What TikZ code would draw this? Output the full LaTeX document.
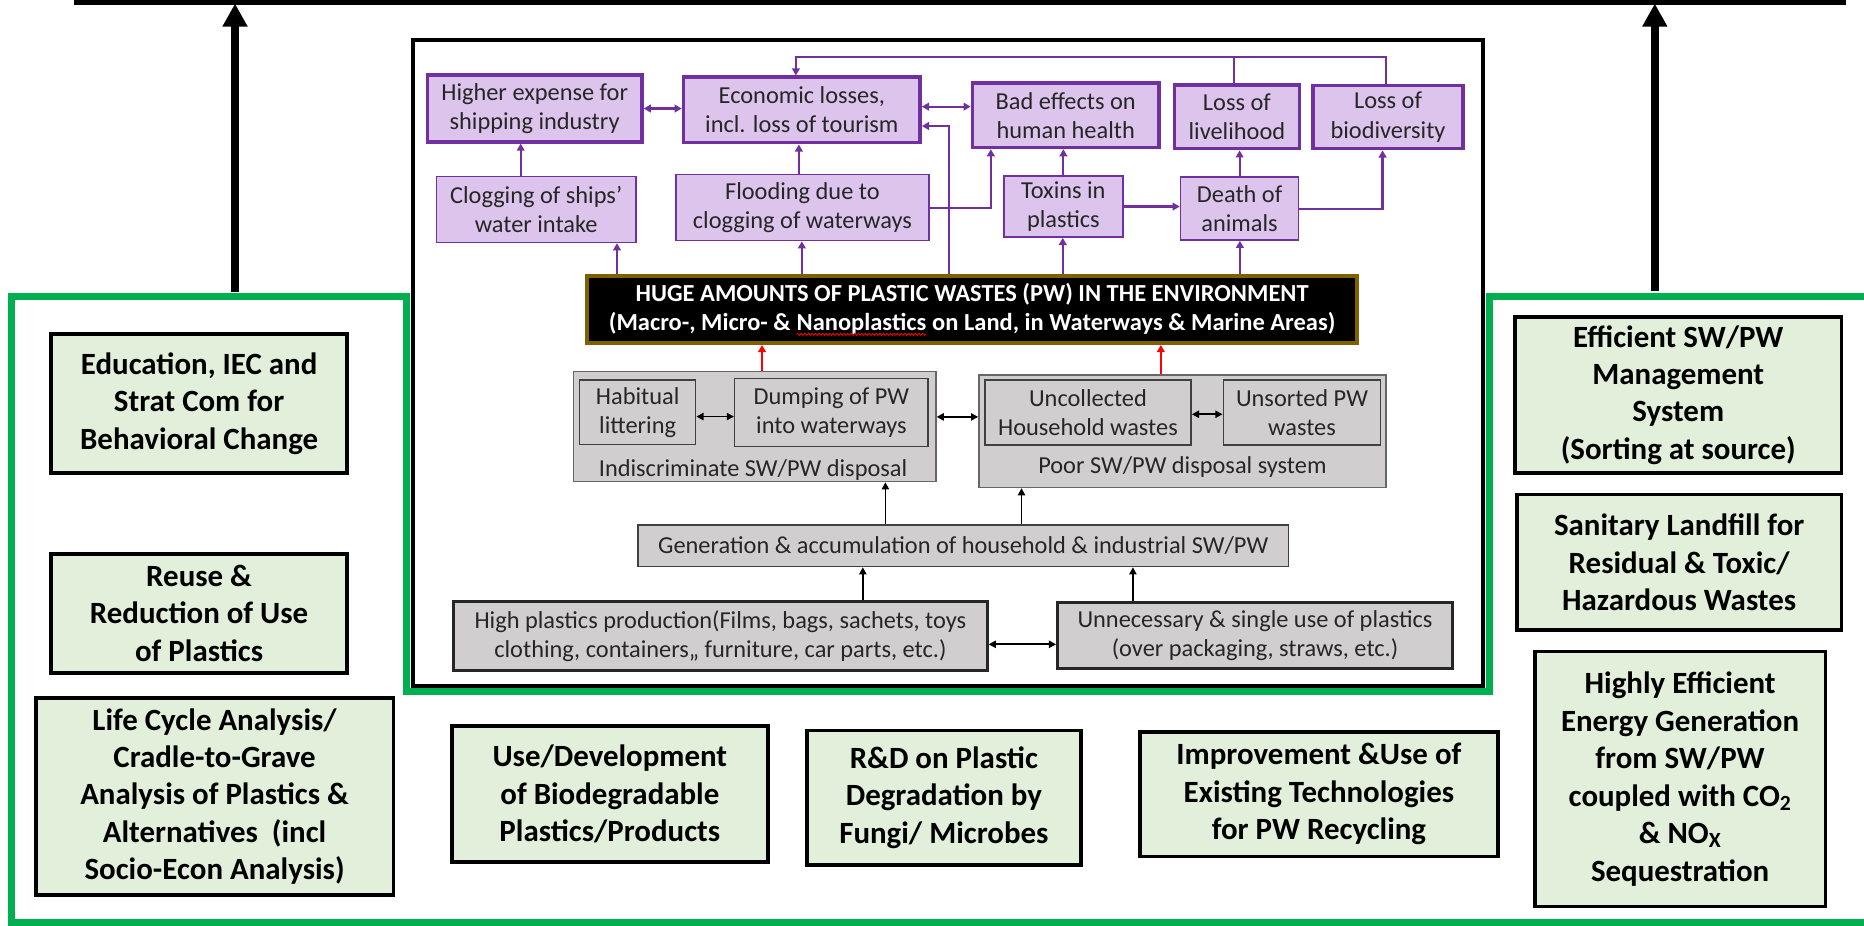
\documentclass[tikz,border=0pt]{standalone}
\usepackage{fontspec}
\setmainfont{Carlito}
\usetikzlibrary{arrows.meta,decorations.pathmorphing,calc}
\definecolor{pborder}{HTML}{7030A0}
\definecolor{pfill}{RGB}{220,196,236}
\definecolor{gfill}{HTML}{D0CECE}
\definecolor{gline}{HTML}{404040}
\definecolor{grfill}{HTML}{E2EFDA}
\definecolor{grline}{HTML}{00B050}
\definecolor{hugeline}{HTML}{7F6000}
\tikzset{
 pthick/.style={draw=pborder, line width=3pt, fill=pfill, align=center, inner sep=0pt, font=\fontsize{20.5}{24.5}\selectfont, text=black!85},
 pthin/.style={pthick, line width=1.2pt},
 gouter/.style={draw=gline!80, fill=gfill, line width=1.3pt, inner sep=0pt},
 ginner/.style={draw=gline, fill=gfill, line width=1.2pt, align=center, inner sep=0pt, font=\fontsize{20.5}{24.5}\selectfont, text=black!85},
 glabel/.style={inner sep=0pt, font=\fontsize{20.5}{24.5}\selectfont, text=black!85},
 gthick/.style={ginner, draw=black!85, line width=2.6pt},
 grbox/.style={draw=black, line width=3.2pt, fill=grfill, align=center, inner sep=0pt, font=\fontsize{26}{31.5}\bfseries\selectfont},
 hugebox/.style={draw=hugeline, line width=3.4pt, fill=black, text=white, align=center, inner sep=0pt, font=\fontsize{20.6}{24.4}\bfseries\selectfont},
 parr/.style={draw=pborder, line width=1.8pt, -{Triangle[width=6.5pt,length=6pt]}},
 pboth/.style={parr, {Triangle[width=6.5pt,length=6pt]}-{Triangle[width=6.5pt,length=6pt]}},
 plin/.style={draw=pborder, line width=1.8pt},
 karr/.style={draw=black, line width=1.5pt, -{Triangle[width=6pt,length=6pt]}},
 kboth/.style={karr, {Triangle[width=6pt,length=6pt]}-{Triangle[width=6pt,length=6pt]}},
 rarr/.style={draw=red, line width=1.8pt, -{Triangle[width=6.5pt,length=6pt]}},
 bigarr/.style={draw=black, line width=6.7pt, -{Triangle[width=20pt,length=19.5pt]}},
 wavyred/.style={draw=red, line width=0.7pt, decorate, decoration={snake, amplitude=0.9pt, segment length=3pt}},
}
\newcommand{\wavyword}[1]{\tikz[baseline=(wvw.base)]{\node[inner sep=0pt,outer sep=0pt,minimum width=0pt,minimum height=0pt,draw=none,fill=none,text=white](wvw){#1};\draw[wavyred]([yshift=-3.5pt]wvw.base west)--([yshift=-3.5pt]wvw.base east);}}
\begin{document}
\begin{tikzpicture}[x=1pt,y=-1pt]
\useasboundingbox (0,0) rectangle (1568,778.8);
% frames
\draw[grline, line width=5.8pt, line join=miter] (1575,249.5) -- (1253,249.5) -- (1253,581.5) -- (342,581.5) -- (342,249.5) -- (9.8,249.5) -- (9.8,776) -- (1575,776);
\draw[line width=3.4pt] (347.5,33.6) rectangle (1247.5,577);
% top line and big arrows
\coordinate (tl) at (62,2);
\coordinate (tr) at (1553,2);
\draw[line width=4.2pt] (tl) -- (tr);
\coordinate (la0) at (197.7,246);
\coordinate (la1) at (197.7,3);
\coordinate (ra0) at (1392,245);
\coordinate (ra1) at (1392,3);
\draw[bigarr] (la0) -- (la1);
\draw[bigarr] (ra0) -- (ra1);
% purple row 1
\node[pthick, minimum width=180.5pt, minimum height=56pt] (P1) at (449.75,91.3) {Higher expense for\\shipping industry};
\node[pthick, minimum width=199pt, minimum height=55pt] (P2) at (674.5,92.5) {Economic losses,\\incl. loss of tourism};
\node[pthick, minimum width=157pt, minimum height=54pt] (P3) at (896.5,97) {Bad effects on\\human health};
\node[pthick, minimum width=105pt, minimum height=53.5pt] (P4) at (1040.5,98.2) {Loss of\\livelihood};
\node[pthick, minimum width=126pt, minimum height=53pt] (P5) at (1167.6,98.5) {Loss of\\biodiversity};
% purple row 2
\node[pthin, minimum width=168pt, minimum height=55.4pt] (Q1) at (451,176.3) {Clogging of ships’\\water intake};
\node[pthin, minimum width=213pt, minimum height=55.4pt] (Q2) at (675,174.7) {Flooding due to\\clogging of waterways};
\node[pthin, minimum width=100pt, minimum height=51.5pt] (Q3) at (894.5,173.75) {Toxins in\\plastics};
\node[pthin, minimum width=99.5pt, minimum height=53pt] (Q4) at (1042.75,175.5) {Death of\\animals};
% huge box
\node[hugebox, minimum width=648pt, minimum height=56.5pt] (HUGE) at (817.75,260.25) {HUGE AMOUNTS OF PLASTIC WASTES (PW) IN THE ENVIRONMENT\\(Macro-, Micro- \& \wavyword{Nanoplastics} on Land, in Waterways \& Marine Areas)};
% gray section
\node[gouter, minimum width=305pt, minimum height=92.4pt] (G1) at (634.75,358.8) {};
\node[ginner, minimum width=97.6pt, minimum height=54.4pt] (H1) at (536.4,346.8) {Habitual\\littering};
\node[ginner, minimum width=162.8pt, minimum height=57.2pt] (H2) at (699.4,347.1) {Dumping of PW\\into waterways};
\node[glabel] (G1L) at (633.5,395.3) {Indiscriminate SW/PW disposal};
\node[gouter, minimum width=342.2pt, minimum height=94.6pt] (G2) at (994.6,362.7) {};
\node[ginner, minimum width=173.6pt, minimum height=54.7pt] (U1) at (915.2,347) {Uncollected\\Household wastes};
\node[ginner, minimum width=132.5pt, minimum height=54.7pt] (U2) at (1095.25,347) {Unsorted PW\\wastes};
\node[glabel] (G2L) at (994.6,392.5) {Poor SW/PW disposal system};
\node[ginner, minimum width=547.4pt, minimum height=35.1pt] (Gen) at (810.3,459) {Generation \& accumulation of household \& industrial SW/PW};
\node[gthick, minimum width=448.7pt, minimum height=58pt] (HP) at (606,535) {High plastics production(Films, bags, sachets, toys\\clothing, containers,, furniture, car parts, etc.)};
\node[gthick, minimum width=332pt, minimum height=55.7pt] (UN) at (1055.7,534.85) {Unnecessary \& single use of plastics\\(over packaging, straws, etc.)};
% green boxes
\node[grbox, minimum width=249pt, minimum height=117pt] (L1) at (167.5,339.5) {Education, IEC and\\Strat Com for\\Behavioral Change};
\node[grbox, minimum width=249pt, minimum height=100pt] (L2) at (167.5,516) {Reuse \&\\Reduction of Use\\of Plastics};
\node[grbox, minimum width=301pt, minimum height=166pt] (L3) at (180.5,670) {Life Cycle Analysis/\\Cradle-to-Grave\\Analysis of Plastics \&\\Alternatives~~(incl\\Socio-Econ Analysis)};
\node[grbox, minimum width=266pt, minimum height=114pt] (B1) at (513,668) {Use/Development\\of Biodegradable\\Plastics/Products};
\node[grbox, minimum width=230pt, minimum height=113pt] (B2) at (794,671) {R\&D on Plastic\\Degradation by\\Fungi/ Microbes};
\node[grbox, minimum width=301pt, minimum height=105pt] (B3) at (1109.5,668) {Improvement \&Use of\\Existing Technologies\\for PW Recycling};
\node[grbox, minimum width=274.5pt, minimum height=131.5pt] (R1) at (1411.75,332.25) {Efficient SW/PW\\Management\\System\\(Sorting at source)};
\node[grbox, minimum width=273pt, minimum height=114pt] (R2) at (1412.5,473) {Sanitary Landfill for\\Residual \& Toxic/\\Hazardous Wastes};
\node[grbox, minimum width=244.6pt, minimum height=214.5pt] (R3) at (1413.3,655.25) {Highly Efficient\\Energy Generation\\from SW/PW\\coupled with CO\textsubscript{2}\\\& NO\textsubscript{X}\\Sequestration};
% purple connectors
\coordinate (fbtop) at (1166,48);
\draw[parr] ([xshift=-13pt]Q1.north) -- ([xshift=-13pt]Q1.north |- P1.south);
\draw[pboth] (P1.east) -- (P1.east -| P2.west);
\draw[pboth] ([yshift=2.8pt]P2.east) -- ([yshift=2.8pt]P2.east -| P3.west);
\draw[parr] ([xshift=-19.75pt]HUGE.north) |- ([yshift=-13.5pt]P2.east);
\draw[parr] ([xshift=-3pt]Q2.north) -- ([xshift=-3pt]Q2.north |- P2.south);
\draw[parr] (Q2.east) -| ([xshift=-63pt]P3.south);
\draw[parr] (Q3.north) -- (Q3.north |- P3.south);
\draw[parr] (Q3.east) -- (Q3.east -| Q4.west);
\draw[parr] (Q4.north) -- (Q4.north |- P4.south);
\draw[parr] (Q4.east) -| ([xshift=-4.6pt]P5.south);
\draw[plin] ([xshift=-2.5pt]P4.north) -- ([xshift=-2.5pt]P4.north |- fbtop);
\draw[parr] ([xshift=-1.6pt]P5.north) |- ([xshift=-5pt]P2.north |- fbtop) -- ([xshift=-5pt]P2.north);
\draw[parr] ([xshift=-298.75pt]HUGE.north) -- ([xshift=-298.75pt]HUGE.north |- Q1.south);
\draw[parr] ([xshift=-143.25pt]HUGE.north) -- ([xshift=-143.25pt]HUGE.north |- Q2.south);
\draw[parr] ([xshift=76.25pt]HUGE.north) -- ([xshift=76.25pt]HUGE.north |- Q3.south);
\draw[parr] ([xshift=225.25pt]HUGE.north) -- ([xshift=225.25pt]HUGE.north |- Q4.south);
% red connectors
\draw[rarr] ([xshift=6.25pt]G1.north) -- ([xshift=6.25pt]G1.north |- HUGE.south);
\draw[rarr] ([xshift=-18.1pt]G2.north) -- ([xshift=-18.1pt]G2.north |- HUGE.south);
% black connectors
\draw[kboth] ([yshift=-3.6pt]H1.east) -- ([yshift=-3.6pt]H1.east -| H2.west);
\draw[kboth] ([yshift=8.1pt]G1.east) -- ([yshift=8.1pt]G1.east -| G2.west);
\draw[kboth] ([yshift=-1.5pt]U1.east) -- ([yshift=-1.5pt]U1.east -| U2.west);
\draw[karr] ([xshift=-65.5pt]Gen.north) -- ([xshift=-65.5pt]Gen.north |- G1.south);
\draw[karr] ([xshift=49pt]Gen.north) -- ([xshift=49pt]Gen.north |- G2.south);
\draw[karr] ([xshift=119.8pt]HP.north) -- ([xshift=119.8pt]HP.north |- Gen.south);
\draw[karr] ([xshift=-102.7pt]UN.north) -- ([xshift=-102.7pt]UN.north |- Gen.south);
\draw[kboth] ([yshift=-7pt]HP.east) -- ([yshift=-7pt]HP.east -| UN.west);
\end{tikzpicture}
\end{document}
